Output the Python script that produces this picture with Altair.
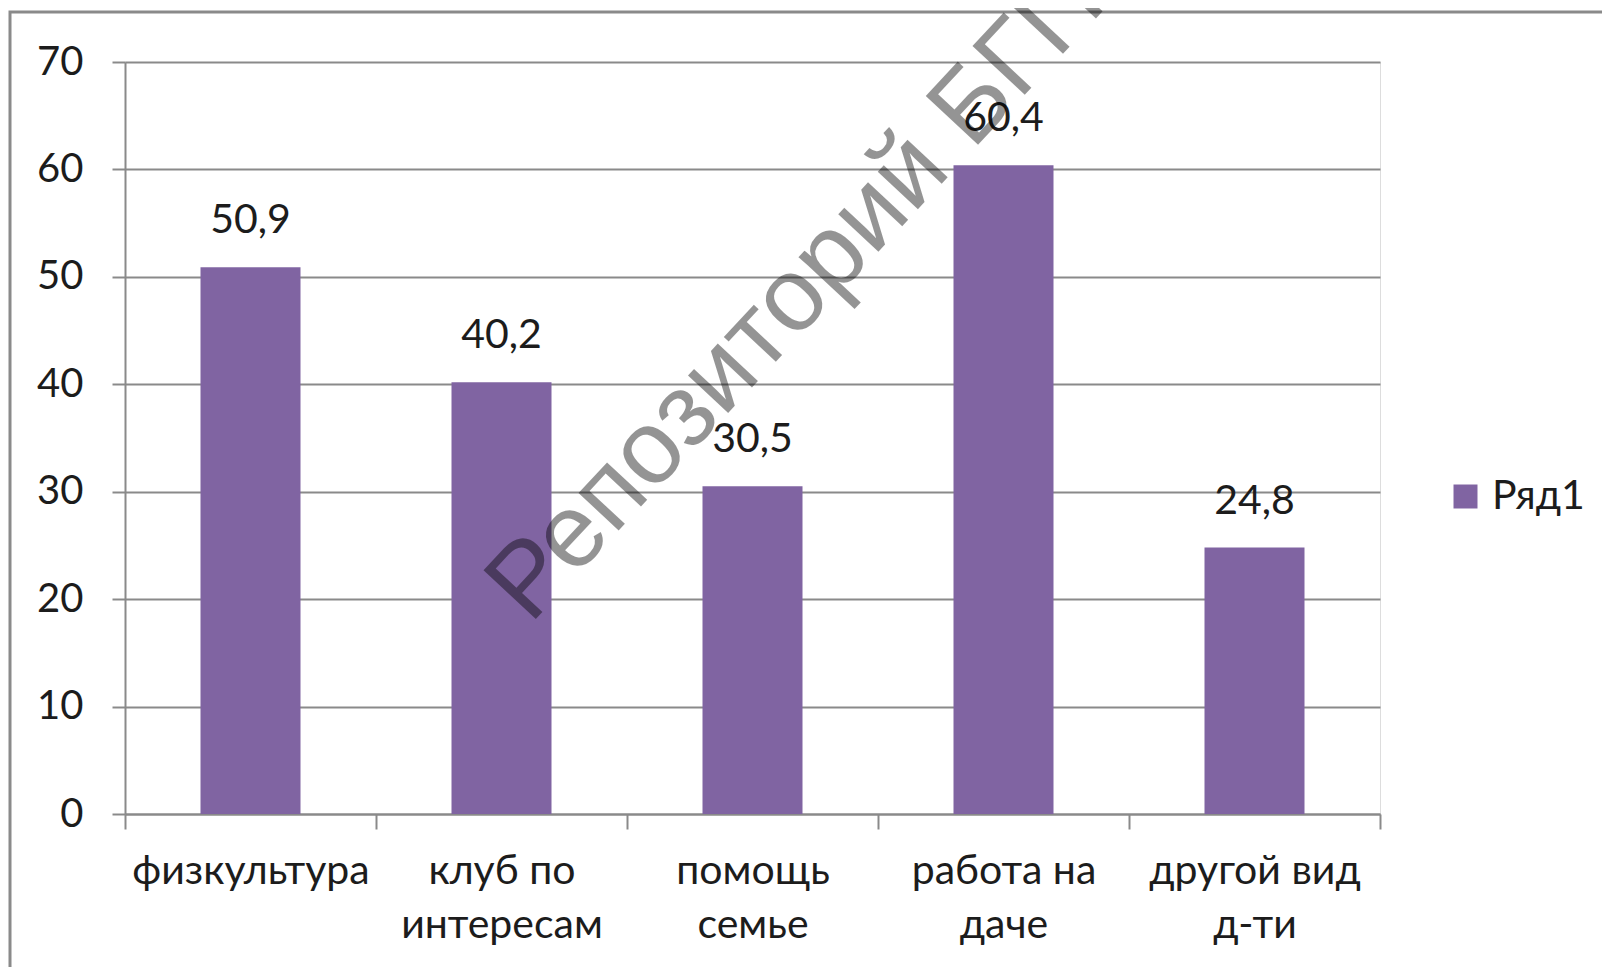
import altair as alt
import pandas as pd

categories = ["физкультура", "клуб по\nинтересам", "помощь\nсемье", "работа на\nдаче", "другой вид\nд-ти"]
values = [50.9, 40.2, 30.5, 60.4, 24.8]
series_name = "Ряд1"
y_ticks = [0, 10, 20, 30, 40, 50, 60, 70]
watermark = "Репозиторий БГПУ"

df = pd.DataFrame({
    "cat": categories,
    "val": values,
    "series": [series_name] * len(categories),
    "lbl": [f"{v:.1f}".replace(".", ",") for v in values],
})

FONT = "Lato"
TXT = "#1c1c1c"
GRID = "#8a8a8a"
PURPLE = "#8064A2"

x_enc = alt.X("cat:N", sort=categories, title=None,
              scale=alt.Scale(paddingInner=0, paddingOuter=0),
              axis=alt.Axis(labelAngle=0, labelFontSize=41, labelFont=FONT, labelColor=TXT,
                            labelExpr="split(datum.label, '\\n')", labelLineHeight=54,
                            labelLimit=0,
                            labelPadding=22, tickSize=15, tickColor=GRID, tickWidth=2,
                            tickBand="extent", domainColor=GRID, domainWidth=2,
                            labelBaseline="top"))
y_enc = alt.Y("val:Q", title=None,
              scale=alt.Scale(domain=[0, 70], nice=False),
              axis=alt.Axis(values=y_ticks, labelFontSize=40, labelFont=FONT, labelColor=TXT,
                            labelPadding=29, tickSize=13, tickColor=GRID, tickWidth=2,
                            grid=True, gridColor=GRID, gridWidth=2,
                            domainColor=GRID, domainWidth=2))

frame = alt.Chart(alt.Data(values=[{}])).mark_rect(
    fill="white", fillOpacity=0, stroke="#8a8a8a", strokeWidth=3
).encode(x=alt.value(-115), x2=alt.value(1600), y=alt.value(-50), y2=alt.value(1000))

bars = alt.Chart(df).mark_bar(size=100).encode(
    x=x_enc, y=y_enc,
    color=alt.Color("series:N", title=None,
                    scale=alt.Scale(range=[PURPLE]),
                    legend=alt.Legend(orient="none", legendX=1320, legendY=414,
                                      symbolType="square", symbolSize=576,
                                      symbolStrokeWidth=0, labelFontSize=41,
                                      labelFont=FONT, labelColor=TXT,
                                      labelOffset=6, padding=0)),
)

labels = alt.Chart(df).mark_text(
    fontSize=41, font=FONT, color=TXT, dy=-34, baseline="alphabetic"
).encode(x=alt.X("cat:N", sort=categories), y="val:Q", text="lbl:N")

wm = alt.Chart(alt.Data(values=[{"t": watermark}])).mark_text(
    fontSize=104, font="Liberation Sans", color="#000000", fillOpacity=0.42,
    angle=313, align="center", baseline="middle"
).encode(x=alt.value(694), y=alt.value(208), text="t:N")

chart = alt.layer(frame, bars, labels, wm).properties(
    width=1255, height=752,
    padding={"left": 117, "top": 54, "right": 222, "bottom": 153},
    autosize=alt.AutoSizeParams(type="none"),
).configure_view(stroke=None).configure(background="white")

chart.save("out.html", embed_options={"renderer": "svg", "actions": False})
